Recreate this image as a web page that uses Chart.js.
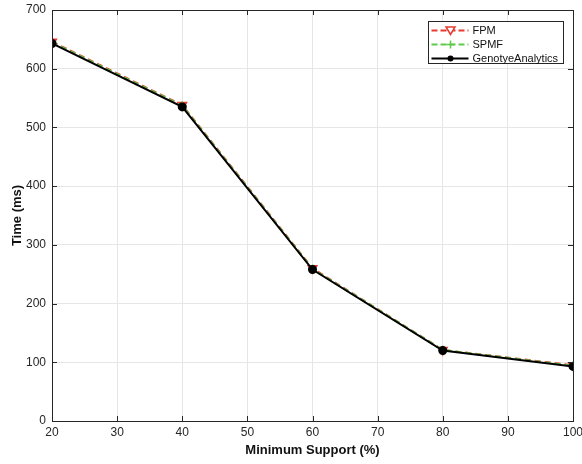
<!DOCTYPE html>
<html>
<head>
<meta charset="utf-8">
<script src="https://cdn.jsdelivr.net/npm/chart.js@4.4.0/dist/chart.umd.min.js"></script>
<style>
  html, body { margin: 0; padding: 0; background: #fff; }
  #wrap { width: 582px; height: 464px; }
</style>
</head>
<body>
<div id="wrap"><canvas id="chart" width="582" height="464"></canvas></div>
<script>
const supports = [20, 40, 60, 80, 100];
const fpm = [646, 538, 260, 121, 95];
const spmf = [645, 537, 259, 121, 94];
const genotye = [643, 535, 258, 120, 93];
const xTicks = [20, 30, 40, 50, 60, 70, 80, 90, 100];
const yTicks = [0, 100, 200, 300, 400, 500, 600, 700];

const FONT = 'Liberation Sans, Arial, sans-serif';
const RED = '#e8392f';
const GREEN = '#5ec94a';

function pts(vals) {
  return supports.map((x, i) => ({ x: x, y: vals[i] }));
}

// box, inward ticks and legend drawn on top of the chart area
const boxPlugin = {
  id: 'boxPlugin',
  afterDraw(chart) {
    const c = chart.ctx, a = chart.chartArea;
    const xs = chart.scales.x, ys = chart.scales.y;
    c.save();
    c.strokeStyle = '#262626';
    c.lineWidth = 1;
    c.beginPath();
    xTicks.forEach(t => {
      const px = Math.round(xs.getPixelForValue(t)) + 0.5;
      c.moveTo(px, a.bottom); c.lineTo(px, a.bottom - 5);
      c.moveTo(px, a.top); c.lineTo(px, a.top + 5);
    });
    yTicks.forEach(t => {
      const py = Math.round(ys.getPixelForValue(t)) + 0.5;
      c.moveTo(a.left, py); c.lineTo(a.left + 5, py);
      c.moveTo(a.right, py); c.lineTo(a.right - 5, py);
    });
    c.stroke();
    c.strokeRect(Math.round(a.left) + 0.5, Math.round(a.top) + 0.5,
      Math.round(a.right - a.left), Math.round(a.bottom - a.top));

    // legend
    const lx = 428.5, ly = 21.5, lw = 135, lh = 42;
    c.fillStyle = '#fff';
    c.fillRect(lx, ly, lw, lh);
    c.strokeStyle = '#262626';
    c.strokeRect(lx, ly, lw, lh);
    const items = [
      { label: 'FPM', color: RED, dash: [6, 3], marker: 'tri' },
      { label: 'SPMF', color: GREEN, dash: [6, 3], marker: 'plus' },
      { label: 'GenotyeAnalytics', color: '#000', dash: [], marker: 'dot' }
    ];
    items.forEach((it, i) => {
      const y = ly + 9 + i * 14;
      c.strokeStyle = it.color;
      c.lineWidth = 2;
      c.setLineDash(it.dash);
      c.beginPath(); c.moveTo(lx + 3, y); c.lineTo(lx + 40, y); c.stroke();
      c.setLineDash([]);
      c.fillStyle = it.color;
      const mx = lx + 22;
      if (it.marker === 'tri') {
        c.lineWidth = 1.5;
        c.fillStyle = '#fff';
        c.beginPath(); c.moveTo(mx - 4.5, y - 3.5); c.lineTo(mx + 4.5, y - 3.5); c.lineTo(mx, y + 4); c.closePath();
        c.fill(); c.stroke();
      } else if (it.marker === 'plus') {
        c.lineWidth = 1.5;
        c.beginPath(); c.moveTo(mx - 4, y); c.lineTo(mx + 4, y); c.moveTo(mx, y - 4); c.lineTo(mx, y + 4); c.stroke();
      } else {
        c.beginPath(); c.arc(mx, y, 3, 0, Math.PI * 2); c.fill();
      }
      c.fillStyle = '#111';
      c.font = '11px ' + FONT;
      c.textBaseline = 'middle';
      c.textAlign = 'left';
      c.fillText(it.label, lx + 44, y + 0.5);
    });
    c.restore();
  }
};

new Chart(document.getElementById('chart').getContext('2d'), {
  type: 'line',
  data: {
    datasets: [
      {
        label: 'FPM',
        data: pts(fpm),
        borderColor: RED,
        backgroundColor: RED,
        borderWidth: 2,
        borderDash: [6, 4],
        pointStyle: 'triangle',
        rotation: 180,
        pointRadius: 5,
        pointBorderWidth: 1.5,
        pointBackgroundColor: RED,
        order: 3
      },
      {
        label: 'SPMF',
        data: pts(spmf),
        borderColor: GREEN,
        backgroundColor: GREEN,
        borderWidth: 2,
        borderDash: [6, 4],
        pointStyle: 'cross',
        pointRadius: 4.5,
        pointBorderWidth: 1.5,
        order: 2
      },
      {
        label: 'GenotyeAnalytics',
        data: pts(genotye),
        borderColor: '#000',
        backgroundColor: '#000',
        borderWidth: 2,
        pointStyle: 'circle',
        pointRadius: 3.5,
        pointBackgroundColor: '#000',
        order: 1
      }
    ]
  },
  options: {
    responsive: false,
    animation: false,
    layout: { padding: { top: 10, right: 9, left: 0, bottom: 0 } },
    plugins: {
      legend: { display: false },
      tooltip: { enabled: false }
    },
    scales: {
      x: {
        type: 'linear',
        min: 20,
        max: 100,
        afterBuildTicks(scale) { scale.ticks = xTicks.map(v => ({ value: v })); },
        afterFit(scale) { scale.height = 43; scale.paddingRight = 0; scale.paddingLeft = 0; },
        grid: { color: '#e6e6e6', drawTicks: false },
        border: { display: false },
        ticks: { color: '#262626', font: { family: FONT, size: 12 }, padding: 4, maxRotation: 0 },
        title: {
          display: true,
          text: 'Minimum Support (%)',
          color: '#111',
          font: { family: FONT, size: 13, weight: 'bold' },
          padding: { top: 0, bottom: 6 }
        }
      },
      y: {
        min: 0,
        max: 700,
        afterBuildTicks(scale) { scale.ticks = yTicks.map(v => ({ value: v })); },
        afterFit(scale) { scale.width = 52; scale.paddingTop = 0; scale.paddingBottom = 0; },
        grid: { color: '#e6e6e6', drawTicks: false },
        border: { display: false },
        ticks: { color: '#262626', font: { family: FONT, size: 12 }, padding: 6 },
        title: {
          display: true,
          text: 'Time (ms)',
          color: '#111',
          font: { family: FONT, size: 13, weight: 'bold' },
          padding: { top: 10, bottom: 0 }
        }
      }
    }
  },
  plugins: [boxPlugin]
});
</script>
</body>
</html>
